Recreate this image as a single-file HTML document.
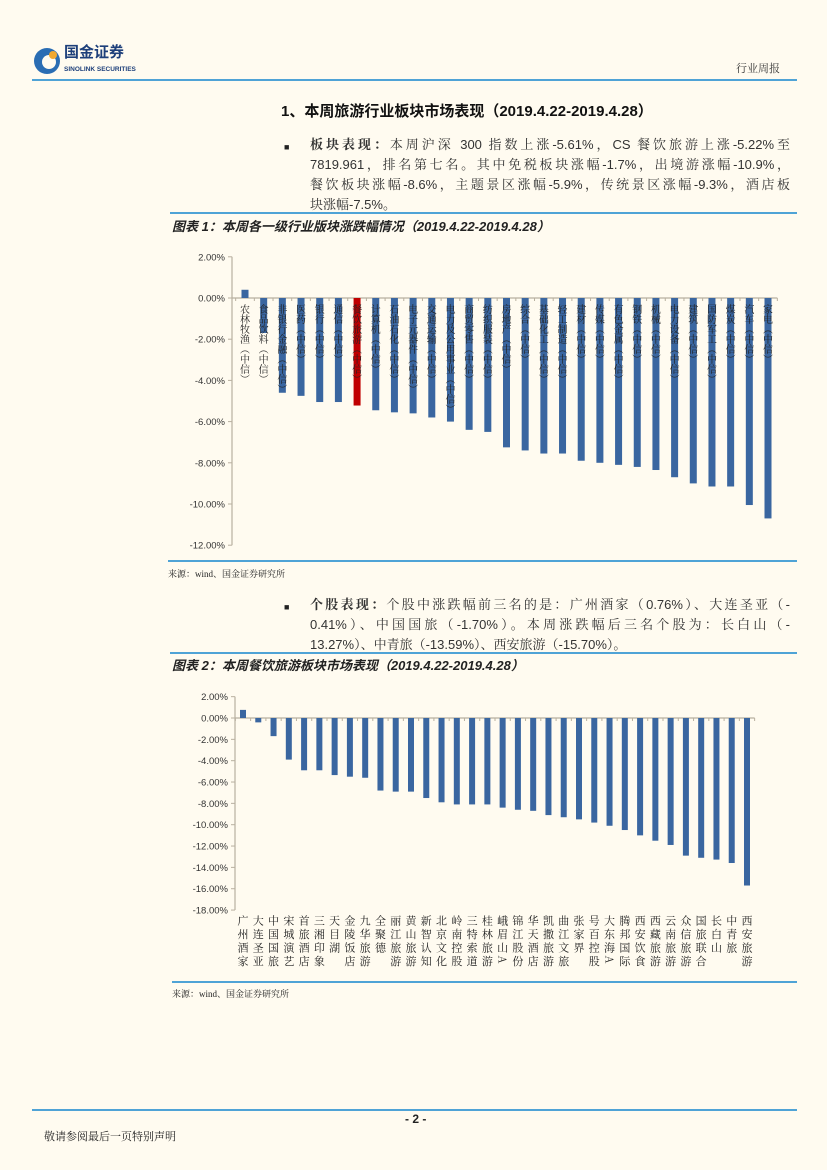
<!DOCTYPE html>
<html><head><meta charset="utf-8">
<style>
body{margin:0;background:#fffbf0;}
#page{position:relative;width:827px;height:1170px;background:#fffbf0;overflow:hidden;font-family:"Liberation Sans","Noto Sans CJK SC",sans-serif;color:#222;}
.abs{position:absolute;white-space:nowrap;}
.line{position:absolute;height:2px;background:#4fa3d6;}
.ser{font-family:"Liberation Serif","Noto Serif CJK SC",serif;}
.para{font-size:13px;line-height:20px;color:#333;font-family:"Liberation Sans","Noto Serif CJK SC",serif;}
.para div{text-align:justify;text-align-last:justify;height:20px;}
.para div.last{text-align-last:left;}
</style></head><body>
<div id="page">
  <div class="abs" style="left:32px;top:46px;">
    <svg width="30" height="30"><circle cx="15" cy="15" r="13" fill="#2a6db3"/><circle cx="17" cy="16" r="7" fill="#fffbf0"/><circle cx="21" cy="9" r="4" fill="#f0a830"/></svg>
  </div>
  <div class="abs" style="left:64px;top:44px;font-size:15px;line-height:18px;font-weight:bold;color:#1d3f7a;">国金证券</div>
  <div class="abs" style="left:64px;top:66px;font-size:6.5px;line-height:8px;font-weight:bold;color:#1d3f7a;">SINOLINK SECURITIES</div>
  <div class="abs ser" style="left:736px;top:60px;font-size:11px;color:#333;">行业周报</div>
  <div class="line" style="left:32px;top:79px;width:765px;"></div>

  <div class="abs" style="left:281px;top:100px;font-size:15px;font-weight:bold;color:#111;">1、本周旅游行业板块市场表现（2019.4.22-2019.4.28）</div>
  <div class="abs" style="left:284px;top:142px;font-size:9px;">■</div>
  <div class="abs para" style="left:310px;top:135px;width:480px;">
    <div><b>板块表现：</b>本周沪深 300 指数上涨-5.61%，CS 餐饮旅游上涨-5.22%至</div>
    <div>7819.961，排名第七名。其中免税板块涨幅-1.7%，出境游涨幅-10.9%，</div>
    <div>餐饮板块涨幅-8.6%，主题景区涨幅-5.9%，传统景区涨幅-9.3%，酒店板</div>
    <div class="last">块涨幅-7.5%。</div>
  </div>

  <div class="line" style="left:170px;top:212px;width:627px;"></div>
  <div class="abs" style="left:172px;top:216px;font-size:13px;font-weight:bold;font-style:italic;">图表 1：本周各一级行业版块涨跌幅情况（2019.4.22-2019.4.28）</div>
  <svg id="c1" class="abs" style="left:0;top:0;" width="827" height="1170"></svg>
  <div class="line" style="left:168px;top:560px;width:629px;"></div>
  <div class="abs ser" style="left:168px;top:567px;font-size:9px;">来源：wind、国金证券研究所</div>

  <div class="abs" style="left:284px;top:602px;font-size:9px;">■</div>
  <div class="abs para" style="left:310px;top:595px;width:480px;">
    <div><b>个股表现：</b>个股中涨跌幅前三名的是：广州酒家（0.76%）、大连圣亚（-</div>
    <div>0.41%）、中国国旅（-1.70%）。本周涨跌幅后三名个股为：长白山（-</div>
    <div class="last">13.27%）、中青旅（-13.59%）、西安旅游（-15.70%）。</div>
  </div>

  <div class="line" style="left:170px;top:652px;width:627px;"></div>
  <div class="abs" style="left:172px;top:655px;font-size:13px;font-weight:bold;font-style:italic;">图表 2：本周餐饮旅游板块市场表现（2019.4.22-2019.4.28）</div>
  <div class="line" style="left:172px;top:981px;width:625px;"></div>
  <div class="abs ser" style="left:172px;top:987px;font-size:9px;">来源：wind、国金证券研究所</div>

  <div class="line" style="left:32px;top:1109px;width:765px;"></div>
  <div class="abs" style="left:405px;top:1112px;font-size:12px;font-weight:bold;">- 2 -</div>
  <div class="abs ser" style="left:44px;top:1128px;font-size:11px;">敬请参阅最后一页特别声明</div>
</div>
<script>
const ns="http://www.w3.org/2000/svg";
const c1Cats=["农林牧渔（中信）","食品饮料（中信）","非银行金融（中信）","医药（中信）","银行（中信）","通信（中信）","餐饮旅游（中信）","计算机（中信）","石油石化（中信）","电子元器件（中信）","交通运输（中信）","电力及公用事业（中信）","商贸零售（中信）","纺织服装（中信）","房地产（中信）","综合（中信）","基础化工（中信）","轻工制造（中信）","建材（中信）","传媒（中信）","有色金属（中信）","钢铁（中信）","机械（中信）","电力设备（中信）","建筑（中信）","国防军工（中信）","煤炭（中信）","汽车（中信）","家电（中信）"];
const c1Vals=[0.4,-1.7,-4.6,-4.75,-5.05,-5.05,-5.22,-5.45,-5.55,-5.6,-5.8,-6.0,-6.4,-6.5,-7.25,-7.4,-7.55,-7.55,-7.9,-8.0,-8.1,-8.2,-8.35,-8.7,-9.0,-9.15,-9.15,-10.05,-10.7];
const c1Highlight="餐饮旅游（中信）";
const c1Ticks=[2,0,-2,-4,-6,-8,-10,-12];
const c2Cats=["广州酒家","大连圣亚","中国国旅","宋城演艺","首旅酒店","三湘印象","天目湖","金陵饭店","九华旅游","全聚德","丽江旅游","黄山旅游","新智认知","北京文化","岭南控股","三特索道","桂林旅游","峨眉山A","锦江股份","华天酒店","凯撒旅游","曲江文旅","张家界","号百控股","大东海A","腾邦国际","西安饮食","西藏旅游","云南旅游","众信旅游","国旅联合","长白山","中青旅","西安旅游"];
const c2Vals=[0.76,-0.41,-1.70,-3.9,-4.9,-4.9,-5.35,-5.5,-5.6,-6.8,-6.9,-6.9,-7.5,-7.9,-8.1,-8.1,-8.1,-8.4,-8.6,-8.7,-9.1,-9.3,-9.5,-9.8,-10.1,-10.5,-11.0,-11.5,-11.9,-12.9,-13.1,-13.27,-13.59,-15.70];
const c2Ticks=[2,0,-2,-4,-6,-8,-10,-12,-14,-16,-18];

function mk(svg,tag,attrs){const e=document.createElementNS(ns,tag);for(const k in attrs)e.setAttribute(k,attrs[k]);svg.appendChild(e);return e;}

function draw(svg,cfg){
  const {cats,vals,ticks,axisX,y0,pxPer,x1,x2,bw,prefix}=cfg;
  const y=v=>y0-v*pxPer;
  const step=(x2-x1)/(cats.length-1);
  const x=i=>x1+i*step;
  const yTop=y(ticks[0]), yBot=y(ticks[ticks.length-1]);
  const ax=mk(svg,"line",{x1:axisX,x2:axisX,y1:yTop,y2:yBot,stroke:"#b8b0a0","stroke-width":1.2});
  
  
  ticks.forEach(t=>{
    const tk=mk(svg,"line",{x1:axisX-4,x2:axisX,y1:y(t),y2:y(t),stroke:"#b8b0a0"});
    
    
    const lb=mk(svg,"text",{x:axisX-7,y:y(t)+3.5,"text-anchor":"end","font-size":"9.5","fill":"#333","font-family":"Liberation Sans, sans-serif"});
    lb.textContent=t.toFixed(2)+"%";
    
    
  });
  const zl=mk(svg,"line",{x1:axisX,x2:x2+step/2,y1:y0,y2:y0,stroke:"#b8b0a0","stroke-width":1.2});
  
  
  for(let i=0;i<=cats.length;i++){
    const tk=mk(svg,"line",{x1:x(i)-step/2,x2:x(i)-step/2,y1:y0,y2:y0+3,stroke:"#b8b0a0"});
    
    
  }
  cats.forEach((c,i)=>{
    const v=vals[i];
    const r=mk(svg,"rect",{x:x(i)-bw/2,y:Math.min(y(v),y0),width:bw,height:Math.abs(y(v)-y0),fill:(cfg.hl===c?"#c00000":"#3a66a0")});
    
    
    const t=mk(svg,"text",{x:x(i),y:cfg.labelY,"font-size":cfg.lfs,"fill":"#222","font-family":"Noto Serif CJK SC, serif",style:"writing-mode:vertical-rl;letter-spacing:"+cfg.ls+"px"});
    t.textContent=c;
    
    
  });
}
draw(document.getElementById("c1"),{cats:c1Cats,vals:c1Vals,ticks:c1Ticks,axisX:232,y0:298,pxPer:20.6,x1:245,x2:768,bw:7,prefix:"chart1",hl:c1Highlight,labelY:304,lfs:10,ls:0});
draw(document.getElementById("c1"),{cats:c2Cats,vals:c2Vals,ticks:c2Ticks,axisX:235,y0:718,pxPer:10.67,x1:243,x2:747,bw:6,prefix:"chart2",hl:null,labelY:915,lfs:11,ls:2.5});
</script>
</body></html>
